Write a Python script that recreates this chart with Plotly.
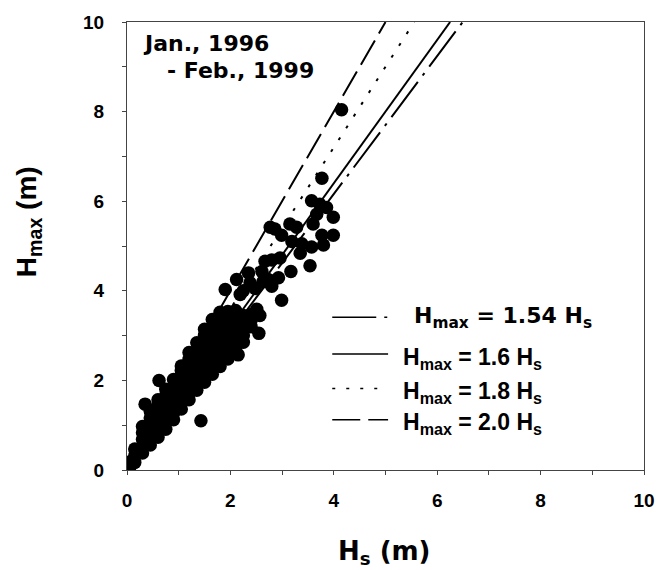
import plotly.graph_objects as go

# ---------------- data ----------------
# dense band of observations: Hs column -> list of Hmax values
blob_hs = [0.05, 0.15, 0.3, 0.45, 0.6, 0.75, 0.9, 1.05, 1.2, 1.35, 1.5, 1.65, 1.8, 1.95, 2.1, 2.25, 2.4]
blob_hmax = [
    [0.05, 0.18],
    [0.17, 0.32, 0.47],
    [0.38, 0.53, 0.68, 0.83, 0.97],
    [0.56, 0.71, 0.86, 1.01, 1.16, 1.31],
    [0.73, 0.88, 1.03, 1.18, 1.33, 1.47, 1.57],
    [0.91, 1.06, 1.21, 1.36, 1.51, 1.66, 1.8],
    [1.12, 1.27, 1.42, 1.57, 1.72, 1.87, 2.02],
    [1.36, 1.51, 1.66, 1.81, 1.96, 2.11, 2.22, 2.32],
    [1.57, 1.72, 1.87, 2.02, 2.17, 2.32, 2.47, 2.62],
    [1.78, 1.93, 2.08, 2.23, 2.38, 2.53, 2.68, 2.84],
    [1.96, 2.11, 2.26, 2.41, 2.56, 2.71, 2.86, 3.01, 3.14],
    [2.14, 2.29, 2.44, 2.59, 2.74, 2.89, 3.04, 3.19, 3.36],
    [2.31, 2.46, 2.61, 2.76, 2.91, 3.06, 3.21, 3.36, 3.52],
    [2.48, 2.63, 2.78, 2.93, 3.08, 3.23, 3.38, 3.54],
    [2.68, 2.83, 2.98, 3.13, 3.28, 3.43, 3.56],
    [2.85, 3.0, 3.15, 3.3, 3.45],
    [3.2, 3.35, 3.47],
]

# scattered observations
out_hs = [4.15, 3.77, 3.57, 3.73, 3.86, 3.99, 3.67, 3.60, 3.15, 3.28, 2.86, 2.77,
          2.99, 3.19, 3.38, 3.77, 3.99, 3.80, 3.57, 3.35, 2.96, 2.80, 2.67, 3.54,
          3.17, 2.93, 2.61, 2.35, 2.12, 2.38, 2.73, 1.90, 2.25, 2.99, 2.51, 2.57,
          2.55, 2.15, 1.43, 0.62, 0.35, 2.48, 2.63, 2.80, 2.19, 2.22]
out_hmax = [8.04, 6.51, 6.01, 5.93, 5.86, 5.64, 5.71, 5.49, 5.49, 5.42, 5.38, 5.42,
            5.24, 5.10, 5.05, 5.24, 5.24, 5.02, 4.98, 4.84, 4.73, 4.69, 4.66, 4.56,
            4.43, 4.29, 4.43, 4.40, 4.25, 4.18, 4.25, 4.03, 4.00, 3.79, 3.59, 3.45,
            3.05, 2.57, 1.10, 2.00, 1.47, 4.05, 4.20, 4.10, 3.92, 2.86]

# fitted relations Hmax = k * Hs
ratios = [1.54, 1.6, 1.8, 2.0]
ratio_labels = ["1.54", "1.6", "1.8", "2.0"]

x_ticks = [0, 2, 4, 6, 8, 10]
y_ticks = [0, 2, 4, 6, 8, 10]

# ---------------- styles ----------------
dashes = ["44px,8px,3px,8px", "solid", "3px,11px", "28px,8px"]

fig = go.Figure()

xs, ys = [], []
for h, col in zip(blob_hs, blob_hmax):
    for v in col:
        xs.append(h)
        ys.append(v)
xs += out_hs
ys += out_hmax

fig.add_trace(go.Scatter(x=xs, y=ys, mode="markers",
                         marker=dict(size=13.5, color="black", line=dict(width=0)),
                         showlegend=False, hoverinfo="skip"))

for k, d in zip(ratios, dashes):
    fig.add_trace(go.Scatter(x=[0, 10.0 / k], y=[0, 10], mode="lines",
                             line=dict(color="black", width=2, dash=d),
                             showlegend=False, hoverinfo="skip"))

# ---------------- manual legend ----------------
leg_y = [3.41, 2.59, 1.82, 1.12]
leg_text_x = [5.53, 5.32, 5.32, 5.32]
leg_text_y = [3.40, 2.50, 1.74, 1.04]
shapes = []
annotations = []
for i, (k, lab) in enumerate(zip(ratios, ratio_labels)):
    shapes.append(dict(type="line", xref="x", yref="y", x0=3.97, x1=5.05,
                       y0=leg_y[i], y1=leg_y[i],
                       line=dict(color="black", width=1.6, dash=dashes[i])))
    if i == 0:
        fnt = dict(family="DejaVu Sans", size=22, color="black", weight="bold")
    else:
        fnt = dict(family="Liberation Sans", size=23, color="black", weight="bold")
    annotations.append(dict(x=leg_text_x[i], y=leg_text_y[i], xref="x", yref="y",
                            xanchor="left", yanchor="middle", showarrow=False,
                            borderpad=0,
                            text="H<sub>max</sub> = " + lab + " H<sub>s</sub>",
                            font=fnt))

# period text
annotations.append(dict(x=0.029, y=0.952, xref="paper", yref="paper",
                        xanchor="left", yanchor="middle", showarrow=False, borderpad=0,
                        text="Jan., 1996",
                        font=dict(family="DejaVu Sans", size=22, color="black", weight="bold")))
annotations.append(dict(x=0.0754, y=0.891, xref="paper", yref="paper",
                        xanchor="left", yanchor="middle", showarrow=False, borderpad=0,
                        text="- Feb., 1999",
                        font=dict(family="DejaVu Sans", size=22, color="black", weight="bold")))

# axis titles
annotations.append(dict(x=-0.19, y=0.555, xref="paper", yref="paper",
                        xanchor="center", yanchor="middle", showarrow=False, textangle=-90,
                        text="H<sub>max</sub> (m)",
                        font=dict(family="Liberation Sans", size=28, color="black", weight="bold")))
annotations.append(dict(x=0.499, y=-0.185, xref="paper", yref="paper",
                        xanchor="center", yanchor="middle", showarrow=False,
                        text="H<sub>s</sub> (m)",
                        font=dict(family="DejaVu Sans", size=26, color="black", weight="bold")))

tickfont = dict(family="Liberation Sans", size=19, color="black", weight="bold")

fig.update_layout(
    width=670, height=570,
    margin=dict(l=127, r=26, t=15, b=100),
    paper_bgcolor="white", plot_bgcolor="white",
    shapes=shapes, annotations=annotations,
    showlegend=False,
    xaxis=dict(range=[0, 10], tickvals=x_ticks, ticktext=[str(v) for v in x_ticks],
               showgrid=False, zeroline=False, showline=True, linecolor="#444", linewidth=1,
               mirror=True, ticks="outside", ticklen=4, tickcolor="#444",
               minor=dict(dtick=1, ticks="outside", ticklen=4, tickcolor="#444", showgrid=False),
               tickfont=tickfont, ticklabelstandoff=9),
    yaxis=dict(range=[0, 10], tickvals=y_ticks, ticktext=[str(v) for v in y_ticks],
               showgrid=False, zeroline=False, showline=True, linecolor="#444", linewidth=1,
               mirror=True, ticks="outside", ticklen=4, tickcolor="#444",
               minor=dict(dtick=1, ticks="outside", ticklen=4, tickcolor="#444", showgrid=False),
               tickfont=tickfont, ticklabelstandoff=14),
)

fig.write_html("out.html")
